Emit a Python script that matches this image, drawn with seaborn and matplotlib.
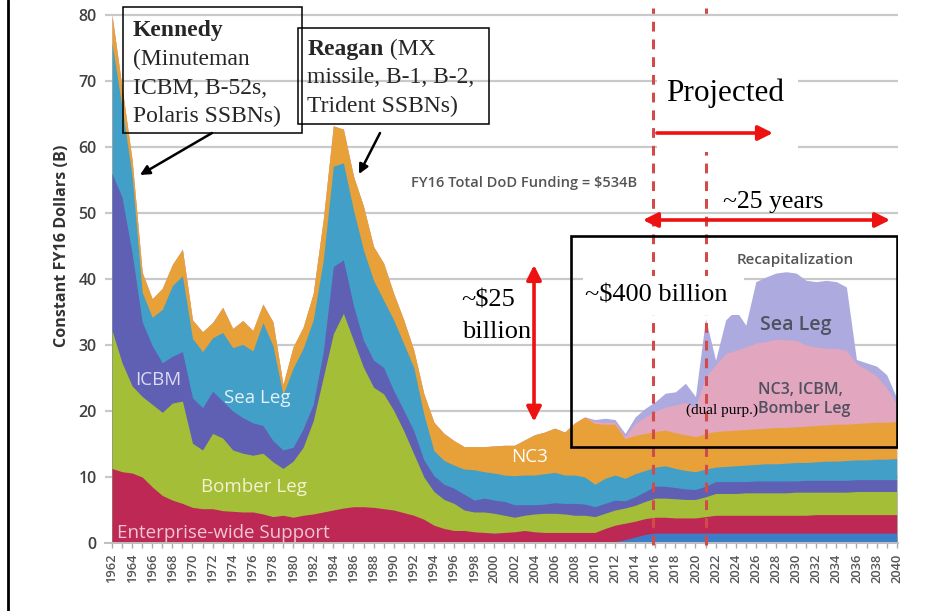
import numpy as np
import matplotlib
matplotlib.use("Agg")
import matplotlib.pyplot as plt
import seaborn as sns
from matplotlib.patches import Rectangle
from matplotlib.lines import Line2D

# ---------------- data (cumulative tops of each stacked layer, $B FY16) ----------------
years = list(range(1962, 2041))

recap_base_top = [0, 0, 0, 0, 0, 0, 0, 0,
                  0, 0, 0, 0, 0, 0, 0, 0, 0, 0,
                  0, 0, 0, 0, 0, 0, 0, 0, 0, 0,
                  0, 0, 0, 0, 0, 0, 0, 0, 0, 0,
                  0, 0, 0, 0, 0, 0, 0, 0, 0, 0,
                  0, 0, 0.2, 0.5, 0.9, 1.3, 1.5, 1.5, 1.5, 1.5,
                  1.5, 1.5, 1.5, 1.5, 1.5, 1.5, 1.5, 1.5, 1.5, 1.5,
                  1.5, 1.5, 1.5, 1.5, 1.5, 1.5, 1.5, 1.5, 1.5, 1.5,
                  1.5]

support_top = [11.3, 10.8, 10.6, 10.0, 8.5, 7.2, 6.5, 6.0,
               5.4, 5.2, 5.2, 4.9, 4.8, 4.7, 4.7, 4.4, 4.0, 4.2,
               3.9, 4.2, 4.4, 4.7, 5.0, 5.3, 5.5, 5.5, 5.4, 5.2,
               5.0, 4.6, 4.2, 3.6, 2.7, 2.2, 1.9, 1.9, 1.7, 1.6,
               1.5, 1.6, 1.7, 1.9, 1.7, 1.6, 1.6, 1.6, 1.6, 1.6,
               1.6, 2.2, 2.7, 3.0, 3.3, 3.7, 3.9, 3.9, 3.8, 3.8,
               3.8, 4.0, 4.2, 4.2, 4.2, 4.2, 4.2, 4.2, 4.2, 4.2,
               4.2, 4.2, 4.3, 4.3, 4.3, 4.3, 4.3, 4.3, 4.3, 4.3,
               4.3]

bomber_top = [32.2, 27.3, 23.8, 22.2, 21.0, 19.8, 21.2, 21.5,
              15.1, 14.1, 16.6, 15.9, 14.1, 13.6, 13.3, 13.6, 12.3, 11.3,
              12.4, 14.5, 18.5, 25.1, 31.7, 34.8, 30.7, 26.6, 23.6, 22.6,
              20.1, 17.0, 13.5, 10.0, 7.8, 6.6, 6.0, 5.0, 4.7, 4.7,
              4.5, 4.2, 3.9, 4.2, 4.4, 4.5, 4.5, 4.4, 4.2, 4.2,
              4.0, 4.5, 5.0, 5.3, 5.7, 6.3, 6.8, 6.8, 6.7, 6.6,
              6.6, 7.0, 7.5, 7.5, 7.5, 7.6, 7.6, 7.6, 7.6, 7.6,
              7.7, 7.7, 7.7, 7.7, 7.7, 7.7, 7.8, 7.8, 7.8, 7.8,
              7.8]

icbm_top = [56.0, 52.4, 43.9, 33.5, 29.9, 27.3, 28.3, 29.0,
            22.0, 20.5, 23.0, 21.5, 20.0, 19.0, 18.2, 17.8, 15.5, 14.1,
            14.5, 17.3, 21.0, 29.0, 41.9, 42.9, 36.0, 30.7, 27.7, 26.6,
            23.1, 20.1, 17.0, 12.6, 10.2, 8.9, 8.3, 7.4, 6.5, 6.8,
            6.5, 6.3, 5.8, 5.8, 5.8, 5.9, 6.1, 6.0, 6.0, 5.9,
            5.5, 6.0, 6.5, 6.4, 7.0, 7.8, 8.6, 8.6, 8.4, 8.2,
            8.1, 8.6, 9.3, 9.3, 9.3, 9.3, 9.4, 9.4, 9.4, 9.4,
            9.4, 9.5, 9.5, 9.5, 9.5, 9.5, 9.6, 9.6, 9.6, 9.6,
            9.6]

sea_top = [75.8, 66.0, 55.6, 38.0, 34.2, 35.4, 39.0, 40.5,
           31.0, 29.0, 31.1, 31.9, 29.6, 30.1, 29.1, 33.4, 29.9, 22.5,
           26.5, 29.5, 33.8, 42.9, 57.1, 57.6, 50.5, 44.4, 39.8, 36.8,
           33.8, 30.2, 26.6, 19.5, 14.0, 12.5, 11.8, 11.2, 11.1, 10.8,
           10.6, 10.3, 10.2, 10.3, 10.3, 10.5, 10.7, 10.3, 10.3, 10.0,
           8.9, 9.8, 10.3, 9.8, 10.5, 11.0, 11.5, 11.7, 11.3, 11.0,
           10.8, 11.2, 11.5, 11.6, 11.7, 11.8, 11.9, 12.0, 12.0, 12.1,
           12.2, 12.2, 12.3, 12.4, 12.4, 12.5, 12.6, 12.6, 12.7, 12.7,
           12.8]

nc3_top = [80.0, 69.0, 58.0, 41.0, 37.0, 38.6, 42.2, 44.5,
           33.8, 32.0, 33.4, 35.7, 32.5, 33.7, 32.2, 36.2, 33.5, 24.0,
           29.7, 32.7, 37.8, 49.0, 63.2, 62.7, 55.6, 51.0, 44.9, 42.4,
           37.8, 33.8, 29.2, 22.6, 18.3, 16.6, 15.5, 14.6, 14.6, 14.6,
           14.7, 14.8, 14.8, 15.6, 16.4, 16.8, 17.4, 16.8, 18.2, 19.1,
           18.1, 18.0, 18.0, 15.8, 16.3, 16.6, 16.9, 17.1, 16.7, 16.4,
           16.1, 16.6, 16.9, 17.0, 17.1, 17.2, 17.3, 17.4, 17.5, 17.5,
           17.6, 17.7, 17.8, 17.9, 18.0, 18.0, 18.1, 18.2, 18.3, 18.3,
           18.4]

# recapitalization layers (2010-2040), cumulative tops
recap_years = list(range(2010, 2041))
recap_triad_top = [18.4, 18.3, 18.3, 16.1, 18.1, 19.1, 20.0, 20.6, 20.9, 21.3,
                   20.6, 25.2, 27.0, 28.7, 29.2, 29.7, 30.3, 30.5, 30.9, 30.8,
                   30.7, 30.0, 29.7, 29.5, 29.5, 29.2, 27.2, 26.3, 25.3, 23.5,
                   21.0]
recap_sea_top = [18.7, 18.9, 18.7, 16.6, 19.1, 20.4, 21.4, 22.7, 22.9, 24.2,
                 22.2, 34.0, 27.7, 33.8, 35.3, 33.0, 39.6, 40.3, 40.9, 41.1,
                 40.9, 39.8, 39.6, 39.8, 39.6, 38.8, 27.8, 27.3, 26.8, 25.5,
                 22.0]

layer_names = ["Recap base", "Enterprise-wide Support", "Bomber Leg", "ICBM",
               "Sea Leg", "NC3", "Recap NC3/ICBM/Bomber", "Recap Sea Leg"]
layer_colors = ["#3C7DC8", "#BE2855", "#A5BE37", "#5F5FB4",
                "#42A0C8", "#E8A038", "#E2A6BE", "#ACAADE"]

# ---------------- build stack ----------------
yrs = np.array(years)
nc3 = np.array(nc3_top, dtype=float)
triad_full = nc3.copy()
sea_full = nc3.copy()
idx = np.searchsorted(yrs, recap_years)
triad_full[idx] = recap_triad_top
sea_full[idx] = recap_sea_top
tops = [np.array(t, dtype=float) for t in
        (recap_base_top, support_top, bomber_top, icbm_top, sea_top, nc3, triad_full, sea_full)]

# ---------------- style ----------------
sns.set_theme(style="white")
plt.rcParams['font.family'] = ['Open Sans', 'DejaVu Sans']
SERIF = ['Liberation Serif', 'DejaVu Serif']

W, H = 953, 611
fig = plt.figure(figsize=(W / 100, H / 100), dpi=100)
fig.patch.set_facecolor("white")

x_left_px, x_right_px = 105, 898
ax = fig.add_axes([x_left_px / W, 68 / H, (x_right_px - x_left_px) / W, 531.3 / H])
ax.set_xlim(1962 + (x_left_px - 112) / 10.06, 1962 + (x_right_px - 112) / 10.06)
ax.set_ylim(0, 80.5)
ax.set_facecolor("white")

palette = sns.color_palette(layer_colors)
# stacked areas: paint each cumulative layer from the top down (no seams)
for top, col, name in reversed(list(zip(tops, palette, layer_names))):
    if top.max() <= 0:
        continue
    ax.fill_between(yrs, 0, top, color=col, lw=0, zorder=2, label=name)

# grid & axes
ax.set_yticks(range(0, 81, 10))
ax.yaxis.grid(True, color="#c9c9c9", lw=1.6, zorder=0)
ax.xaxis.grid(False)
ax.set_axisbelow(True)
for s in ["left", "top", "right"]:
    ax.spines[s].set_visible(False)
ax.spines["bottom"].set_color("#c0c0c0")
ax.spines["bottom"].set_linewidth(1.4)
ax.tick_params(axis="y", length=0, pad=6, labelsize=11.5, labelcolor="#404040")
ax.set_xticks(range(1962, 2041, 2))
ax.set_xticks(range(1962, 2041, 1), minor=True)
ax.set_xticklabels([str(y) for y in range(1962, 2041, 2)], rotation=90,
                   fontsize=9.3, color="#555555", fontweight="semibold")
ax.tick_params(axis="x", which="both", direction="out", length=3.5, width=1,
               color="#aaaaaa", pad=4, bottom=True)
for lab in ax.get_yticklabels():
    lab.set_fontweight("semibold")

fig.text(62 / W, 1 - 246 / H, "Constant FY16 Dollars (B)", rotation=90,
         ha="center", va="center", fontsize=11.6, fontweight="bold", color="#333333")

# left slide border
fig.add_artist(Line2D([8.5 / W, 8.5 / W], [0, 1], color="black", lw=2))

# ---------------- in-chart labels ----------------
def lab(x, y, s, size, color, **kw):
    ax.text(x, y, s, ha="center", va="center", fontsize=size, color=color, zorder=6, **kw)

lab(1966.57, 24.7, "ICBM", 13.5, "#dcdcf4")
lab(1976.41, 21.9, "Sea Leg", 13.5, "#e4f1f8")
lab(1976.08, 8.5, "Bomber Leg", 13.5, "#f4f1d2")
lab(1973.08, 1.45, "Enterprise-wide Support", 13.5, "#f1c6d3")
lab(2003.55, 13.08, "NC3", 13.5, "#ffffff")
lab(2029.94, 42.88, "Recapitalization", 11, "#555555", fontweight="semibold")
lab(2029.99, 33.0, "Sea Leg", 14, "#505060", fontweight="semibold")
lab(2030.47, 23.2, "NC3, ICBM,", 11.5, "#505060", fontweight="semibold")
lab(2030.77, 20.26, "Bomber Leg", 11.5, "#505060", fontweight="semibold")
lab(2022.59, 20.15, "(dual purp.)", 11, "black", family=SERIF)
lab(2002.96, 54.5, "FY16 Total DoD Funding = $534B", 10.5, "#555555", fontweight="semibold")

# ---------------- projection markers ----------------
for xv in (2015.78, 2021.05):
    ax.plot([xv, xv], [-0.3, 81.1], color="#d24a4a", lw=2.2, ls=(0, (3.2, 2.6)),
            zorder=4, clip_on=False)

ax.add_patch(Rectangle((2007.63, 14.55), 2040.03 - 2007.63, 46.52 - 14.55,
                       fill=False, ec="black", lw=1.9, zorder=5))

# white patches behind text
ax.add_patch(Rectangle((2016.17, 59.24), 2030.19 - 2016.17, 79.24 - 59.24,
                       fc="white", ec="none", zorder=5))
ax.add_patch(Rectangle((2008.82, 34.55), 2024.82 - 2008.82, 40.45 - 34.55,
                       fc="white", ec="none", zorder=5))

ax.text(2017.07, 66.9, "Projected", fontsize=22.5, family=SERIF, color="black",
        ha="left", va="baseline", zorder=7)
ax.annotate("", xy=(2027.70, 62.12), xytext=(2016.17, 62.12),
            arrowprops=dict(arrowstyle="-|>", color="#ee1111", lw=2.6,
                            mutation_scale=22, shrinkA=0, shrinkB=0), zorder=7)

ax.text(2022.77, 50.76, "~25 years", fontsize=18.5, family=SERIF, color="black",
        ha="left", va="baseline", zorder=7)
ax.annotate("", xy=(2039.34, 48.94), xytext=(2014.78, 48.94),
            arrowprops=dict(arrowstyle="<|-|>", color="#ee1111", lw=2.6,
                            mutation_scale=22, shrinkA=0, shrinkB=0), zorder=7)

ax.text(1996.76, 35.8, "~$25", fontsize=19, family=SERIF, color="black",
        ha="left", va="baseline", zorder=7)
ax.text(1996.76, 31.0, "billion", fontsize=19, family=SERIF, color="black",
        ha="left", va="baseline", zorder=7)
ax.annotate("", xy=(2003.95, 42.12), xytext=(2003.95, 18.38),
            arrowprops=dict(arrowstyle="<|-|>", color="#ee1111", lw=2.6,
                            mutation_scale=22, shrinkA=0, shrinkB=0), zorder=7)

ax.text(2009.02, 36.56, "~$400 billion", fontsize=19, family=SERIF, color="black",
        ha="left", va="baseline", zorder=7)

# ---------------- president boxes ----------------
ax.add_patch(Rectangle((1963.06, 62.08), 1980.89 - 1963.06, 81.17 - 62.08,
                       fill=False, ec="black", lw=1.1, zorder=7, clip_on=False))
ax.add_patch(Rectangle((1980.46, 63.48), 1999.48 - 1980.46, 78.08 - 63.48,
                       fill=False, ec="black", lw=1.1, zorder=7, clip_on=False))

kx = 1964.09
ax.text(kx, 76.8, "Kennedy", fontsize=17, family=SERIF, fontweight="bold",
        ha="left", va="baseline", zorder=8, clip_on=False)
for yv, s in [(72.4, "(Minuteman"), (68.0, "ICBM, B-52s,"), (63.8, "Polaris SSBNs)")]:
    ax.text(kx, yv, s, fontsize=17, family=SERIF, ha="left", va="baseline", zorder=8)

rx = 1981.41
t_bold = ax.text(rx, 73.9, "Reagan", fontsize=17, family=SERIF, fontweight="bold",
                 ha="left", va="baseline", zorder=8)
ax.annotate(" (MX", xy=(1, 0), xycoords=t_bold, fontsize=17, family=SERIF,
            ha="left", va="bottom", zorder=8)
for yv, s in [(69.65, "missile, B-1, B-2,"), (65.35, "Trident SSBNs)")]:
    ax.text(rx, yv, s, fontsize=17, family=SERIF, ha="left", va="baseline", zorder=8)

ax.annotate("", xy=(1964.78, 55.76), xytext=(1971.94, 62.12),
            arrowprops=dict(arrowstyle="-|>", color="black", lw=1.8,
                            mutation_scale=14, shrinkA=0, shrinkB=0), zorder=8)
ax.annotate("", xy=(1986.55, 55.9), xytext=(1988.64, 62.12),
            arrowprops=dict(arrowstyle="-|>", color="black", lw=1.8,
                            mutation_scale=14, shrinkA=0, shrinkB=0), zorder=8)

fig.savefig("out.png", dpi=100)
